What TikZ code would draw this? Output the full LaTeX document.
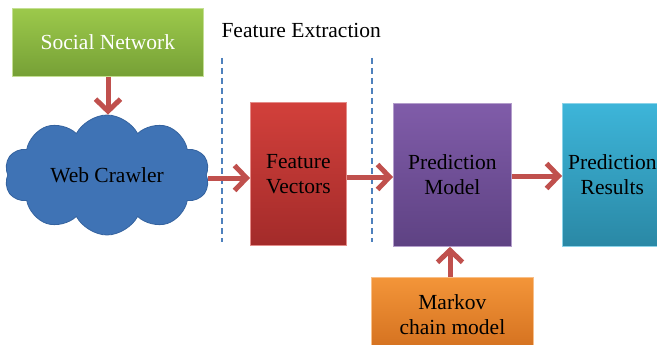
\documentclass[tikz,border=0pt]{standalone}
\usepackage{fontspec}
\setmainfont{Liberation Serif}
\usetikzlibrary{shapes.symbols,arrows.meta}

\definecolor{flowred}{HTML}{C0504D}
\definecolor{dashblue}{HTML}{4F81BD}
\definecolor{grnT}{HTML}{9CC94B}
\definecolor{grnB}{HTML}{76A036}
\definecolor{cloudblue}{HTML}{3F73B5}
\definecolor{cloudedge}{HTML}{35639F}
\definecolor{redT}{HTML}{D2403B}
\definecolor{redB}{HTML}{A32B2A}
\definecolor{purT}{HTML}{805CA9}
\definecolor{purB}{HTML}{5E4283}
\definecolor{cyaT}{HTML}{3DB5D9}
\definecolor{cyaB}{HTML}{2A88A5}
\definecolor{oraT}{HTML}{F39539}
\definecolor{oraB}{HTML}{D3701F}

\tikzset{
  lbl/.style={font=\fontsize{21.5}{25}\selectfont, align=center},
  block/.style={lbl, rectangle, draw=#1!60!white, line width=0.8pt,
    inner sep=0pt, anchor=north west},
  flow/.style={draw=flowred, line width=5pt,
    -{Straight Barb[length=12pt,width=25pt,line width=5pt]}},
  sep/.style={draw=dashblue, line width=1.6pt, dash pattern=on 6pt off 4pt}
}

\begin{document}
\begin{tikzpicture}[x=1pt,y=-1pt]
  \useasboundingbox (0,0) rectangle (657,345);
  \clip (0,0) rectangle (657,345);

  % source and crawler
  \node[block=grnT, top color=grnT, bottom color=grnB, text=white,
        minimum width=191pt, minimum height=68pt] (social) at (12,8) {Social Network};
  \node[lbl, cloud, cloud puffs=10, cloud puff arc=125, aspect=1.7,
        fill=cloudblue, draw=cloudedge, line width=0.8pt,
        minimum width=205pt, minimum height=120pt, inner sep=0pt]
        (crawler) at (107,175) {Web Crawler};

  % feature extraction boundaries
  \coordinate (sepAt) at (222,58);
  \coordinate (sepAb) at (222,242);
  \coordinate (sepBt) at (372,58);
  \coordinate (sepBb) at (372,242);
  \draw[sep] (sepAt) -- (sepAb);
  \draw[sep] (sepBt) -- (sepBb);
  \node[lbl, anchor=west] (fe) at (218,30) {Feature Extraction};

  % processing blocks
  \node[block=redT, top color=redT, bottom color=redB,
        minimum width=96pt, minimum height=143pt] (fv) at (250,102) {Feature\\Vectors};
  \node[block=purT, top color=purT, bottom color=purB,
        minimum width=118pt, minimum height=143pt] (pm) at (393,103) {Prediction\\Model};
  \node[block=cyaT, top color=cyaT, bottom color=cyaB,
        minimum width=100pt, minimum height=143pt] (pr) at (562,103) {Prediction\\Results};
  \node[block=oraT, top color=oraT, bottom color=oraB,
        minimum width=162pt, minimum height=74pt] (mc) at (371,277) {Markov\\chain model};

  % connectors
  \draw[flow] (social.south -| 108,0) -- (crawler.north -| 108,0);
  \draw[flow] (208,178) -- (fv.west |- 0,178);
  \draw[flow] (fv.east |- 0,177) -- (pm.west |- 0,177);
  \draw[flow] (pm.east |- 0,176) -- (pr.west |- 0,176);
  \draw[flow] (mc.north -| 450,0) -- (pm.south -| 450,0);
\end{tikzpicture}
\end{document}
